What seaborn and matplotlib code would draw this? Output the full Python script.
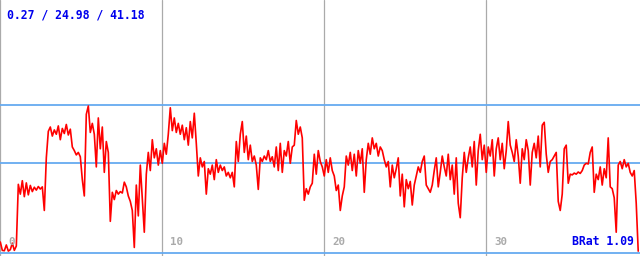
import numpy as np
import pandas as pd
import matplotlib
matplotlib.use("Agg")
import matplotlib.pyplot as plt
import seaborn as sns

# ---- data ----
values = [
    3.3, 1.0, 0.9, 2.5, 0.8, 1.2, 3.0, 1.0, 2.2,
    19.2, 16.5, 20.2, 15.8, 19.6, 16.3, 18.9, 17.2, 18.4, 17.6, 18.6, 17.9, 18.5,
    12.0, 26.5, 33.8,
    35.0, 32.5, 34.2, 33.0, 35.3, 31.5, 34.6, 33.2, 35.7, 32.8, 34.4, 29.5,
    28.5, 27.3, 28.0, 26.8,
    20.5, 16.0,
    38.5, 40.8, 33.5, 36.0, 33.0, 24.0, 37.5, 29.0, 35.0, 22.5, 31.0,
    28.0, 9.0, 17.0, 15.0, 17.5, 16.5, 17.2, 16.8, 19.8, 18.5, 16.0, 14.5, 12.0,
    1.8, 19.0, 10.5, 24.5, 15.0, 6.0, 22.0, 28.0, 23.0, 31.5, 26.5, 29.0, 24.5,
    28.5, 25.0, 30.5, 27.5, 33.0, 40.3, 34.0, 37.5, 33.5, 36.0, 33.0, 35.5, 31.5,
    34.8, 30.0, 36.5, 32.0, 38.8, 30.5, 21.5, 26.5, 24.0, 25.5, 16.5, 23.5, 22.0, 24.5,
    20.5, 26.0, 22.5, 24.5, 23.0, 24.0, 21.5, 22.5, 21.0, 22.5, 18.5, 31.0, 25.5,
    33.0, 36.5, 28.0, 32.5, 26.0, 30.0, 25.5, 27.0, 24.5, 17.8, 26.5, 25.5, 27.0,
    26.0, 28.5, 25.5, 26.8, 24.0, 29.5, 23.0, 30.5, 22.5, 28.5, 27.0, 31.0, 25.0,
    29.5, 30.0, 36.8, 33.0, 35.0, 32.0, 14.8, 18.0, 16.5, 18.5, 19.5, 27.5, 22.0,
    28.5, 25.5,
    24.0, 21.5, 26.0, 22.5, 26.5, 23.0, 21.5, 17.5, 19.0, 12.0, 16.0, 18.5, 27.0,
    24.5, 28.0, 23.0, 27.5, 21.5, 28.5, 25.0, 29.0, 17.0, 26.0, 30.5, 27.5, 32.0,
    29.0, 30.5, 27.0, 29.5, 28.5, 26.0, 24.0, 25.5, 18.5, 24.5, 21.0, 23.5, 26.5,
    16.0, 22.0, 13.0, 20.5, 18.0, 20.0, 13.5, 19.0, 21.5, 24.0, 22.5, 25.5, 27.0,
    19.0, 18.0,
    17.0, 19.0, 23.0, 26.5, 18.5, 22.5, 27.0, 24.0, 21.5, 27.5, 20.5, 24.5, 16.5,
    26.5, 14.0, 10.0, 21.0, 28.0, 22.5, 26.5, 29.5, 24.0, 31.0, 19.0, 28.5, 33.0,
    26.0, 30.0, 22.5, 29.5, 27.0, 31.5, 21.5, 29.0, 32.0, 26.0, 30.5, 23.5, 28.5,
    36.5, 30.0, 28.0, 25.5, 31.5, 27.0, 19.5, 29.0, 26.0, 31.5, 28.5, 19.0, 28.0, 30.5,
    26.5, 32.5, 24.0, 35.5, 36.3, 27.5, 22.5, 25.5, 26.0, 27.0, 28.0, 14.5, 12.0,
    16.5, 29.0, 30.0, 19.5, 22.0, 21.8, 22.3, 22.0, 22.6, 22.2, 23.0, 24.5, 25.0,
    24.8, 28.0, 29.5, 17.0, 22.0, 20.5, 24.0, 19.0, 23.5, 21.0, 32.0, 18.5, 18.0,
    15.5, 6.0, 24.5, 25.5, 23.5, 26.0, 24.0, 25.0, 22.5, 21.5, 23.0, 14.0, 0.8,
]
t_start, t_end = 0.0, 39.38
stat_lines = [0.27, 24.98, 41.18]        # min / avg / max
stat_text = "0.27 / 24.98 / 41.18"
xticks = [0, 10, 20, 30]
xtick_labels = ["0", "10", "20", "30"]
corner_text = "BRat 1.09"

t = np.linspace(t_start, t_end, len(values))
df = pd.DataFrame({"t": t, "v": values})

sns.set_style("white")
plt.rcParams["font.family"] = ["DejaVu Sans Mono", "DejaVu Sans"]

fig = plt.figure(figsize=(6.4, 2.56), dpi=100)
ax = fig.add_axes([0, 0, 1, 1])
ax.set_xlim(-0.02, 39.49)
ax.set_ylim(-0.55, 70.0)
ax.axis("off")

for xv in xticks:
    ax.axvline(xv, color="#aaaaaa", lw=0.9, zorder=1)
for yv in stat_lines:
    ax.axhline(yv, color="#66aaf0", lw=1.3, zorder=1)

sns.lineplot(data=df, x="t", y="v", ax=ax, color="#ff0000", lw=1.2,
             zorder=3, legend=False)

for xv, lab in zip(xticks, xtick_labels):
    ax.annotate(lab, xy=(xv, 0), xycoords=("data", "axes fraction"),
                xytext=(5.8, 0.043 * 256 * 0.72), textcoords="offset points",
                color="#aaaaaa", fontsize=7.8, fontweight="bold",
                ha="left", va="baseline", zorder=4)

ax.text(7 / 640, 1 - 19 / 256, stat_text, transform=ax.transAxes,
        color="#0000ee", fontsize=8.3, fontweight="bold",
        ha="left", va="baseline", zorder=4)
ax.text(634 / 640, 11 / 256, corner_text, transform=ax.transAxes,
        color="#0000ee", fontsize=8.3, fontweight="bold",
        ha="right", va="baseline", zorder=4)

fig.savefig("out.png", dpi=100, facecolor="white")
